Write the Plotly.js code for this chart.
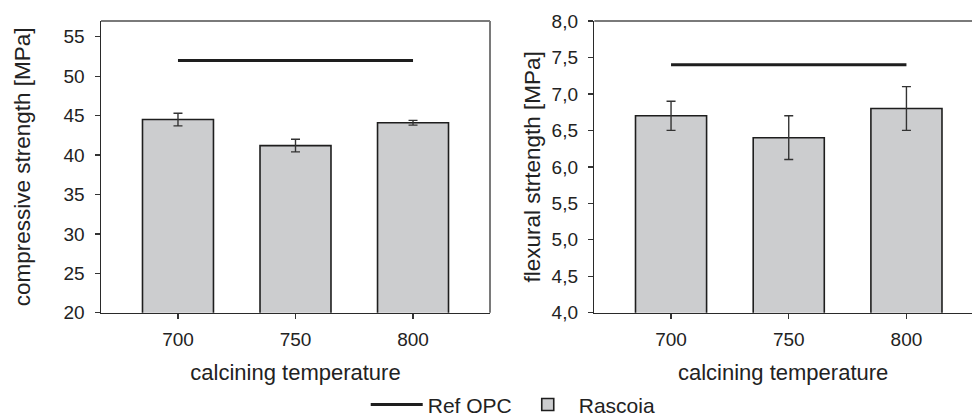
<!DOCTYPE html>
<html>
<head>
<meta charset="utf-8">
<script src="https://cdn.plot.ly/plotly-3.0.1.min.js"></script>
<style>
  html, body { margin: 0; padding: 0; background: #fff; }
  #chart { width: 972px; height: 417px; }
</style>
</head>
<body>
<div id="chart"></div>
<script>
// Calcining temperatures (°C)
const temperatures = ['700', '750', '800'];

// Compressive strength [MPa] of the Rascoia cement and its scatter
const compressive = [44.5, 41.2, 44.1];
const compressiveErr = [0.8, 0.8, 0.3];
const compressiveRef = [52, 52, 52];

// Flexural strength [MPa] of the Rascoia cement and its scatter
const flexural = [6.7, 6.4, 6.8];
const flexuralErr = [0.2, 0.3, 0.3];
const flexuralRef = [7.4, 7.4, 7.4];

const compressiveTicks = [20, 25, 30, 35, 40, 45, 50, 55];
const flexuralTicks = [4.0, 4.5, 5.0, 5.5, 6.0, 6.5, 7.0, 7.5, 8.0];

const FONT = 'Liberation Sans, Arial, sans-serif';
const TEXT = '#222';
const BAR_FILL = '#cccdcf';
const DARK = '#1e1e1e';

function barTrace(y, err, xa, ya, legend) {
  return {
    type: 'bar', x: temperatures, y: y, xaxis: xa, yaxis: ya,
    name: 'Rascoia', showlegend: legend, legendgroup: 'rascoia', legendrank: 2,
    width: 0.604,
    marker: { color: BAR_FILL, line: { color: DARK, width: 1.6 } },
    error_y: { type: 'data', array: err, visible: true, color: '#333', thickness: 1.4, width: 4.5 },
    hoverinfo: 'x+y'
  };
}

function refTrace(y, xa, ya, legend) {
  return {
    type: 'scatter', mode: 'lines', x: temperatures, y: y, xaxis: xa, yaxis: ya,
    name: 'Ref OPC', showlegend: legend, legendgroup: 'ref', legendrank: 1,
    line: { color: DARK, width: 3 },
    hoverinfo: 'y'
  };
}

const data = [
  barTrace(compressive, compressiveErr, 'x', 'y', true),
  refTrace(compressiveRef, 'x', 'y', true),
  barTrace(flexural, flexuralErr, 'x2', 'y2', false),
  refTrace(flexuralRef, 'x2', 'y2', false)
];

function xAxis(domain, range, anchor) {
  return {
    domain: domain, anchor: anchor, type: 'category', range: range,
    showline: true, linecolor: '#2a2a2a', linewidth: 1.5,
    ticks: 'outside', ticklen: 5, tickwidth: 1.3, tickcolor: '#333',
    ticklabelstandoff: 4,
    showgrid: false, zeroline: false,
    tickfont: { family: FONT, size: 19, color: TEXT },
    title: { text: 'calcining temperature', standoff: 15, font: { family: FONT, size: 22, color: TEXT } }
  };
}

function yAxis(range, ticks, fmt, title, anchor, standoff) {
  return {
    domain: [0.2501, 0.9496], anchor: anchor, range: range,
    tickmode: 'array', tickvals: ticks, tickformat: fmt,
    showline: true, linecolor: '#2a2a2a', linewidth: 1.5,
    ticks: 'outside', ticklen: 5, tickwidth: 1.3, tickcolor: '#333',
    ticklabelstandoff: 6,
    showgrid: false, zeroline: false,
    tickfont: { family: FONT, size: 19, color: TEXT },
    title: { text: title, standoff: standoff, font: { family: FONT, size: 22.5, color: TEXT } }
  };
}

// Light grey frame on the top and right of each panel
const frame = { color: '#7a7a7a', width: 2 };
const shapes = [
  { type: 'line', xref: 'x domain', yref: 'y domain', x0: 0, x1: 1, y0: 1, y1: 1, line: frame },
  { type: 'line', xref: 'x domain', yref: 'y domain', x0: 1, x1: 1, y0: 0, y1: 1, line: frame },
  { type: 'line', xref: 'x2 domain', yref: 'y2 domain', x0: 0, x1: 1, y0: 1, y1: 1, line: frame }
];

const layout = {
  width: 972, height: 417,
  margin: { l: 0, r: 0, t: 0, b: 0, autoexpand: false },
  paper_bgcolor: '#fff', plot_bgcolor: '#fff',
  separators: ',.',
  font: { family: FONT, color: TEXT },
  xaxis: xAxis([101 / 972, 490 / 972], [-0.655, 2.655], 'y'),
  yaxis: yAxis([20, 57], compressiveTicks, 'd', 'compressive strength [MPa]', 'x', 26),
  xaxis2: xAxis([594.3 / 972, 1], [-0.652, 2.557], 'y2'),
  yaxis2: yAxis([4, 8], flexuralTicks, '.1f', 'flexural strtength [MPa]', 'x2', 4),
  shapes: shapes,
  showlegend: true,
  legend: {
    orientation: 'h', x: 0.528, xanchor: 'center', y: 0.029, yanchor: 'middle',
    itemwidth: 52, traceorder: 'normal',
    font: { family: FONT, size: 21, color: TEXT },
    bgcolor: 'rgba(0,0,0,0)'
  }
};

Plotly.newPlot('chart', data, layout, { displayModeBar: false, staticPlot: true });
</script>
</body>
</html>
